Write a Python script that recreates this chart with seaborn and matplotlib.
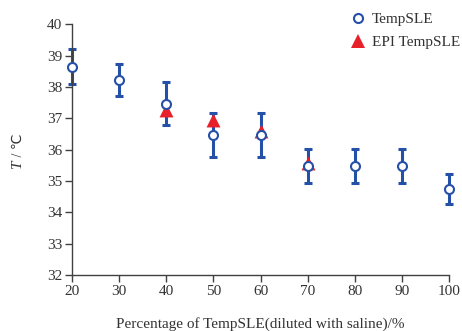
import matplotlib
matplotlib.use("Agg")
import matplotlib.pyplot as plt
import seaborn as sns
import pandas as pd
from matplotlib.lines import Line2D

percent = [20, 30, 40, 50, 60, 70, 80, 90, 100]
temp_sle = [38.64, 38.23, 37.47, 36.48, 36.47, 35.48, 35.48, 35.48, 34.74]
temp_err = [0.56, 0.51, 0.70, 0.70, 0.70, 0.55, 0.55, 0.55, 0.48]
epi_percent = [40, 50, 60, 70]
epi_sle = [37.25, 36.95, 36.60, 35.57]

sns.set_style("ticks")
plt.rcParams['font.family'] = ['Liberation Serif', 'DejaVu Sans']

blue = "#2550a8"
red = "#e8202a"
txt = "#333333"

fig = plt.figure(figsize=(4.62, 3.31), dpi=100)
ax = fig.add_axes([0.156, 0.169, 0.816, 0.758])

df = pd.DataFrame({"x": percent, "y": temp_sle, "e": temp_err})
dfe = pd.DataFrame({"x": epi_percent, "y": epi_sle})

ax.errorbar(df["x"], df["y"], yerr=df["e"], fmt="none", ecolor=blue,
            elinewidth=2.2, capsize=3.0, capthick=2.2, clip_on=False, zorder=2)
sns.scatterplot(data=dfe, x="x", y="y", ax=ax, marker="^", s=100, color=red,
                edgecolor=red, linewidth=0, zorder=3, clip_on=False, legend=False)
sns.scatterplot(data=df, x="x", y="y", ax=ax, marker="o", s=42, facecolor="white",
                edgecolor=blue, linewidth=1.5, zorder=4, clip_on=False, legend=False)

ax.set_xlim(20, 100)
ax.set_ylim(32, 40)
ax.set_xticks(percent)
ax.set_yticks(range(32, 41))
ax.tick_params(axis="both", direction="out", length=5, width=1, color="#404040",
               labelsize=11, labelcolor=txt, pad=2)
for s in ["top", "right"]:
    ax.spines[s].set_visible(False)
for s in ["left", "bottom"]:
    ax.spines[s].set_color("#404040")
    ax.spines[s].set_linewidth(1)

ax.set_xlabel("Percentage of TempSLE(diluted with saline)/%", fontsize=11,
              color=txt, labelpad=14)
ax.set_ylabel("")

# y label: italic T (bottom) followed by " / ℃" (reading upward)
fig.text(18 / 462, 1 - 160 / 331, "T", rotation=90, fontsize=11, fontstyle="italic",
         color=txt, ha="center", va="top")
fig.text(18 / 462, 1 - 160 / 331, " / ℃", rotation=90, fontsize=10, color=txt,
         ha="center", va="bottom", family=['Liberation Serif', 'DejaVu Sans'])

handles = [
    Line2D([], [], marker="o", linestyle="none", markersize=6.5, markerfacecolor="white",
           markeredgecolor=blue, markeredgewidth=1.5, label="TempSLE"),
    Line2D([], [], marker="^", linestyle="none", markersize=10, markerfacecolor=red,
           markeredgecolor=red, markeredgewidth=0, label="EPI TempSLE"),
]
leg = fig.legend(handles=handles, loc="upper right", bbox_to_anchor=(1.012, 0.985),
                 frameon=False, fontsize=11, handlelength=0.8, handletextpad=0.5,
                 labelspacing=0.6, borderaxespad=0.1)
for t in leg.get_texts():
    t.set_color(txt)

fig.savefig("out.png", dpi=100)
